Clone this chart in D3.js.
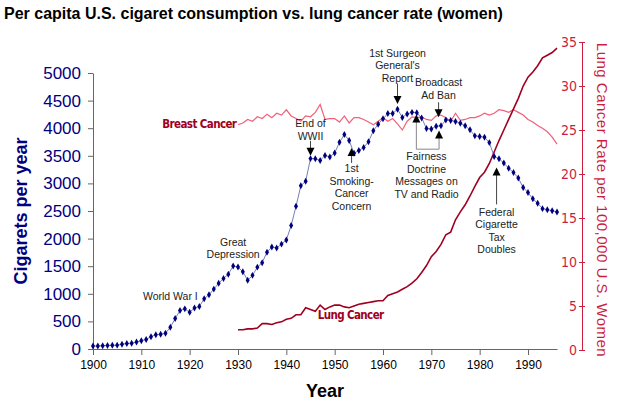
<!DOCTYPE html>
<html><head><meta charset="utf-8">
<script src="https://cdn.jsdelivr.net/npm/d3@7"></script>
<style>body{margin:0;background:#fff}svg{font-family:"Liberation Sans",Arial,sans-serif}</style>
</head><body><svg id="c" width="640" height="407"></svg>
<script>
const cigYears = d3.range(1900, 1997);
const cigarets = [54,53,60,64,66,70,86,99,105,125,151,173,223,260,267,285,395,551,697,727,665,742,770,911,982,1085,1191,1279,1356,1504,1485,1399,1245,1334,1483,1564,1754,1847,1830,1900,1976,2236,2585,2956,3039,3449,3446,3416,3505,3480,3552,3744,3886,3778,3546,3597,3650,3755,3953,4073,4171,4266,4265,4345,4195,4259,4287,4280,4186,3993,3985,4037,4043,4148,4141,4122,4091,4043,3970,3861,3849,3836,3739,3488,3446,3370,3274,3197,3096,2926,2834,2720,2640,2543,2524,2505,2482];
const cancerYears = d3.range(1930, 1997);
const breastCancer = [25.6,25.8,26.2,26.0,26.5,26.3,26.8,26.4,26.9,26.7,27.3,26.6,26.3,26.0,26.6,26.5,27.0,27.9,26.2,26.3,26.3,25.9,26.6,25.8,26.4,26.4,26.2,25.9,25.6,26.0,26.4,26.0,26.3,25.7,25.0,26.0,26.5,26.4,26.5,26.2,26.1,26.6,26.7,26.4,26.0,26.9,26.1,26.2,26.4,26.4,26.6,26.9,26.7,26.9,27.3,27.2,27.0,27.3,27.0,26.7,26.2,25.9,25.5,25.2,24.8,24.2,23.4];
const lungCancer = [2.3,2.3,2.4,2.4,2.5,3.0,3.0,2.9,3.1,3.2,3.5,3.6,4.0,4.0,4.8,4.6,4.4,5.1,4.6,4.9,5.1,5.1,4.9,4.8,5.0,5.2,5.3,5.4,5.5,5.6,5.6,6.2,6.4,6.6,6.9,7.2,7.6,8.1,8.8,9.6,10.6,11.2,12.0,13.1,13.4,14.8,15.7,16.5,17.5,18.6,19.6,20.2,21.2,22.5,23.8,25.0,26.2,27.4,28.6,30.0,31.0,31.6,32.3,33.2,33.5,33.8,34.3];
const xTicks = d3.range(1900, 2000, 10);
const leftTicks = d3.range(0, 5001, 500);
const rightTicks = d3.range(0, 36, 5);
const notes = [
 {lines:["World War I"], x:1916, y:880},
 {lines:["Great","Depression"], x:1929, y:1870},
 {lines:["End of","WWII"], x:1945, y:4020, arrow:[1945,3770,1945,3500]},
 {lines:["1st","Smoking-","Cancer","Concern"], x:1953.5, y:3200, arrow:[1953.5,3370,1953.5,3640]},
 {lines:["1st Surgeon","General's","Report"], x:1963, y:5290, arrow:[1963,4810,1963,4440]},
 {lines:["Broadcast","Ad Ban"], x:1971.5, y:4760, arrow:[1971.5,4470,1971.5,4200]},
 {lines:["Fairness","Doctrine","Messages on","TV and Radio"], x:1969, y:3420},
 {lines:["Federal","Cigarette","Tax","Doubles"], x:1983.5, y:2410, arrow:[1983.5,2620,1983.5,3290]}
];

const svg = d3.select("#c");
const x = d3.scaleLinear().domain([1900,1996]).range([93,557]);
const y = d3.scaleLinear().domain([0,5000]).range([349,73]);
const yr = d3.scaleLinear().domain([0,35]).range([350,42]);
const blue = "#00007f", red = "#cc1f3f", dark = "#a00020";

svg.append("text").attr("x",4).attr("y",19).attr("font-size",16).attr("font-weight","bold").text("Per capita U.S. cigaret consumption vs. lung cancer rate (women)");

const gx = svg.append("g").attr("transform","translate(0,349)").call(d3.axisBottom(x).tickValues(xTicks).tickFormat(d3.format("d")).tickSize(6).tickSizeOuter(0));
gx.selectAll("text").attr("font-size",12).attr("fill","#000").attr("dy","0.9em");
gx.selectAll("line,path").attr("stroke","#666");
const gl = svg.append("g").attr("transform","translate(93,0)").call(d3.axisLeft(y).tickValues(leftTicks).tickFormat(d3.format("d")).tickSize(5).tickSizeOuter(0));
gl.selectAll("text").attr("font-size",17).attr("fill",blue).attr("x",-12);
gl.selectAll("line,path").attr("stroke","#666");
const gr = svg.append("g").attr("transform","translate(582,0)").call(d3.axisRight(yr).tickValues(rightTicks).tickSize(4).tickSizeOuter(0));
gr.selectAll("text").attr("font-size",14).attr("fill",red).attr("x",-5).attr("text-anchor","end").attr("font-family","'DejaVu Sans Condensed',sans-serif");
gr.selectAll("line,path").attr("stroke",red);
gr.selectAll("line").attr("x1",-3).attr("x2",3);

svg.append("text").attr("transform","translate(27,211) rotate(-90)").attr("text-anchor","middle").attr("font-size",18).attr("font-weight","bold").attr("fill",blue).text("Cigarets per year");
svg.append("text").attr("transform","translate(597,200) rotate(90)").attr("text-anchor","middle").attr("font-size",15).attr("fill",red).attr("letter-spacing","0.5").text("Lung  Cancer  Rate  per  100,000  U.S.  Women");
svg.append("text").attr("x",325).attr("y",397).attr("text-anchor","middle").attr("font-size",18).attr("font-weight","bold").text("Year");

svg.append("path").datum(breastCancer).attr("fill","none").attr("stroke","#f0607a").attr("stroke-width",1.2)
 .attr("d",d3.line().x((d,i)=>x(cancerYears[i])).y(d=>yr(d)));
svg.append("path").datum(lungCancer).attr("fill","none").attr("stroke",dark).attr("stroke-width",1.6)
 .attr("d",d3.line().x((d,i)=>x(cancerYears[i])).y(d=>yr(d)));
svg.append("path").datum(cigarets).attr("fill","none").attr("stroke","#5060a0").attr("stroke-width",0.8)
 .attr("d",d3.line().x((d,i)=>x(cigYears[i])).y(d=>y(d)));
svg.selectAll("path.pt").data(cigarets).join("path").attr("class","pt")
 .attr("transform",(d,i)=>`translate(${x(cigYears[i])},${y(d)})`)
 .attr("d",d3.symbol(d3.symbolDiamond,14)).attr("fill",blue);

svg.append("text").attr("x",x(1922)).attr("y",yr(25.2)).attr("text-anchor","middle").attr("font-size",11.5).attr("font-weight","bold").attr("fill",dark).attr("font-family","'DejaVu Sans Condensed',sans-serif").attr("letter-spacing","-0.6").text("Breast Cancer");
svg.append("text").attr("x",x(1953.3)).attr("y",yr(3.5)).attr("text-anchor","middle").attr("font-size",11.5).attr("font-weight","bold").attr("fill",dark).attr("font-family","'DejaVu Sans Condensed',sans-serif").attr("letter-spacing","-0.6").text("Lung Cancer");

const ng = svg.append("g");
notes.forEach(n=>{
  const t = ng.append("text").attr("x",x(n.x)).attr("y",y(n.y)).attr("text-anchor","middle").attr("font-size",10.5).attr("fill","#222");
  n.lines.forEach((l,i)=>t.append("tspan").attr("x",x(n.x)).attr("dy",i?12.5:0).text(l));
  if(n.arrow){
    const [x1,y1,x2,y2]=n.arrow, X1=x(x1),Y1=y(y1),X2=x(x2),Y2=y(y2);
    const dir = Y2>Y1?1:-1;
    ng.append("line").attr("x1",X1).attr("y1",Y1).attr("x2",X2).attr("y2",Y2-dir*6).attr("stroke","#444");
    ng.append("path").attr("d",`M${X2},${Y2}L${X2-4},${Y2-dir*8}L${X2+4},${Y2-dir*8}Z`).attr("fill","#000");
  }
});
const fx1=x(1966.9), fx2=x(1971.6), fy=y(3620);
ng.append("path").attr("d",`M${fx1},${y(4120)}V${fy}H${fx2}V${y(3830)}`).attr("fill","none").attr("stroke","#888");
[[fx1,y(4250)],[fx2,y(3960)]].forEach(([X,Y])=>ng.append("path").attr("d",`M${X},${Y}L${X-4},${Y+8}L${X+4},${Y+8}Z`).attr("fill","#000"));
</script></body></html>
